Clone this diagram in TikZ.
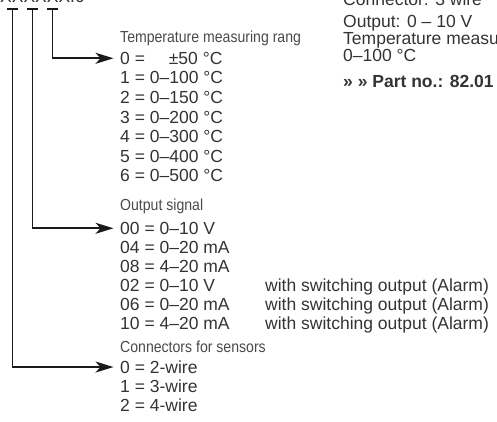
\documentclass[tikz,border=0pt]{standalone}
\usepackage{fontspec}
\setmainfont{Liberation Sans}
\newfontfamily\condfont[FakeStretch=0.88]{Liberation Sans}
\usetikzlibrary{arrows.meta}
\definecolor{txt}{HTML}{333333}
\definecolor{hdr}{HTML}{4A4A4A}
\definecolor{ln}{HTML}{1A1A1A}
\begin{document}
\begin{tikzpicture}[x=1pt,y=-1pt,
  val/.style={anchor=base west, inner sep=0pt, text=txt, font=\fontsize{17.5}{19}\selectfont},
  hd/.style={anchor=base west, inner sep=0pt, text=hdr, font=\condfont\fontsize{16}{18}\selectfont},
  bar/.style={line width=1.7pt, draw=ln},
  arr/.style={bar, -{Stealth[length=18pt,width=11pt,inset=5pt]}}]
\useasboundingbox (0,0) rectangle (497,422);
\clip (0,0) rectangle (497,422);
% order code (cut at top)
\node[val] (code) at (0,2.5) {XXXXXX.0};
% T marks
\coordinate (t1) at (12.5,9);
\coordinate (t2) at (32.5,9);
\coordinate (t3) at (52.5,9);
\draw[bar] (7,9) -- (18,9);
\draw[bar] (27,9) -- (38,9);
\draw[bar] (47,9) -- (58,9);
% group 1
\node[hd] (h1) at (120,43) {Temperature measuring rang};
\node[val] (r1a) at (120,64.3) {0 = \hspace{19pt}±50 °C};
\node[val] (r1b) at (120,83.9) {1 = 0–100 °C};
\node[val] (r1c) at (120,103.5) {2 = 0–150 °C};
\node[val] (r1d) at (120,123.1) {3 = 0–200 °C};
\node[val] (r1e) at (120,142.7) {4 = 0–300 °C};
\node[val] (r1f) at (120,162.3) {5 = 0–400 °C};
\node[val] (r1g) at (120,181.9) {6 = 0–500 °C};
% group 2
\node[hd] (h2) at (120,210.5) {Output signal};
\node[val] (r2a) at (120,234.3) {00 = 0–10 V};
\node[val] (r2b) at (120,253.3) {04 = 0–20 mA};
\node[val] (r2c) at (120,272.3) {08 = 4–20 mA};
\node[val] (r2d) at (120,291.3) {02 = 0–10 V};
\node[val] (r2e) at (120,310.3) {06 = 0–20 mA};
\node[val] (r2f) at (120,329.3) {10 = 4–20 mA};
\node[val] (w1) at (265,291.3) {with switching output (Alarm)};
\node[val] (w2) at (265,310.3) {with switching output (Alarm)};
\node[val] (w3) at (265,329.3) {with switching output (Alarm)};
% group 3
\node[hd] (h3) at (120,352.5) {Connectors for sensors};
\node[val] (r3a) at (120,373.3) {0 = 2-wire};
\node[val] (r3b) at (120,392.3) {1 = 3-wire};
\node[val] (r3c) at (120,411.3) {2 = 4-wire};
% right column
\node[val] (k1) at (343,5.5) {Connector: 3 wire};
\node[val] (k2) at (343,28) {Output: 0 – 10 V};
\node[val] (k3) at (343,45) {Temperature measuring range};
\node[val] (k4) at (343,62) {0–100 °C};
\node[val, font=\fontsize{17.5}{19}\selectfont\bfseries] (k5) at (343,88) {» » Part no.: 82.01};
% leaders
\draw[arr] (t3) |- ([xshift=-6.5pt]r1a.west);
\draw[arr] (t2) |- ([xshift=-6.5pt]r2a.west);
\draw[arr] (t1) |- ([xshift=-6.5pt]r3a.west);
\end{tikzpicture}
\end{document}
